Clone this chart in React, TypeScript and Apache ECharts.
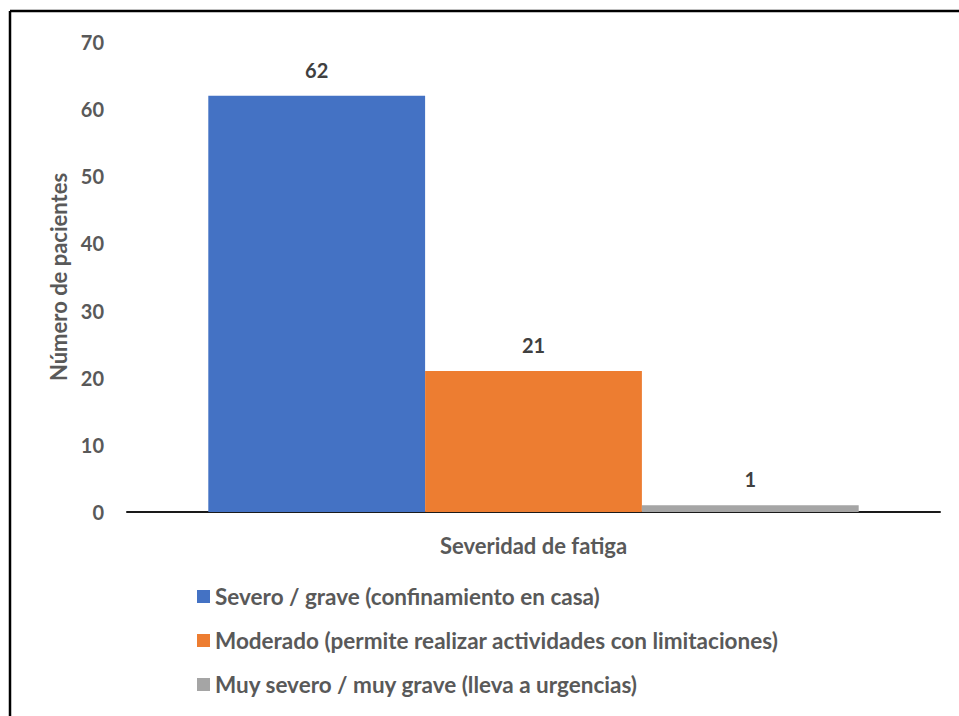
import React, { useEffect, useRef } from "react";
import * as echarts from "echarts";

const categories = ["Severidad de fatiga"];
const seriesNames = [
  "Severo / grave (confinamiento en casa)",
  "Moderado (permite realizar actividades con limitaciones)",
  "Muy severo / muy grave (lleva a urgencias)",
];
const seriesValues = [[62], [21], [1]];
const seriesColors = ["#4472C4", "#ED7D31", "#A5A5A5"];
const yTicks = { min: 0, max: 70, interval: 10 };

const FONT = "Lato";

export default function App() {
  const ref = useRef<HTMLDivElement>(null);
  useEffect(() => {
    document.body.style.margin = "0";
    const chart = echarts.init(ref.current!, undefined, { renderer: "svg" });
    chart.setOption({
      animation: false,
      textStyle: { fontFamily: FONT },
      grid: { left: 127, right: 19, top: 42, bottom: 204, containLabel: false },
      xAxis: {
        type: "category",
        data: categories,
        name: categories[0],
        nameLocation: "middle",
        nameGap: 22,
        nameTextStyle: { fontFamily: FONT, fontWeight: "bold", fontSize: 22, color: "#595959" },
        axisLine: { lineStyle: { color: "#1a1a1a", width: 2 } },
        axisTick: { show: false },
        axisLabel: { show: false },
      },
      yAxis: {
        type: "value",
        min: yTicks.min,
        max: yTicks.max,
        interval: yTicks.interval,
        name: "Número de pacientes",
        nameLocation: "middle",
        nameGap: 55,
        nameTextStyle: { fontFamily: FONT, fontWeight: "bold", fontSize: 22, color: "#595959" },
        axisLine: { show: false },
        axisTick: { show: false },
        splitLine: { show: false },
        axisLabel: { fontFamily: FONT, fontWeight: "bold", fontSize: 20, color: "#595959", margin: 23 },
      },
      legend: {
        orient: "vertical",
        left: 197,
        top: 585,
        padding: 0,
        itemWidth: 13,
        itemHeight: 13,
        itemGap: 21,
        icon: "rect",
        textStyle: { fontFamily: FONT, fontWeight: "bold", fontSize: 22.5, color: "#595959", padding: [0, 0, 0, 0] },
        data: seriesNames,
      },
      series: seriesNames.map((name, i) => ({
        type: "bar",
        name,
        data: seriesValues[i],
        barGap: "0%",
        barCategoryGap: "20%",
        itemStyle: { color: seriesColors[i] },
        label: {
          show: true,
          position: "top",
          distance: 16,
          fontFamily: FONT,
          fontWeight: "bold",
          fontSize: 20,
          color: "#404040",
        },
      })),
      graphic: [
        { type: "line", shape: { x1: 10, y1: 11, x2: 959, y2: 11 }, style: { stroke: "#000", lineWidth: 2.5 } },
        { type: "line", shape: { x1: 10, y1: 11, x2: 10, y2: 716 }, style: { stroke: "#000", lineWidth: 2.5 } },
      ],
    });
    return () => chart.dispose();
  }, []);
  return <div ref={ref} style={{ width: 959, height: 716 }} />;
}
